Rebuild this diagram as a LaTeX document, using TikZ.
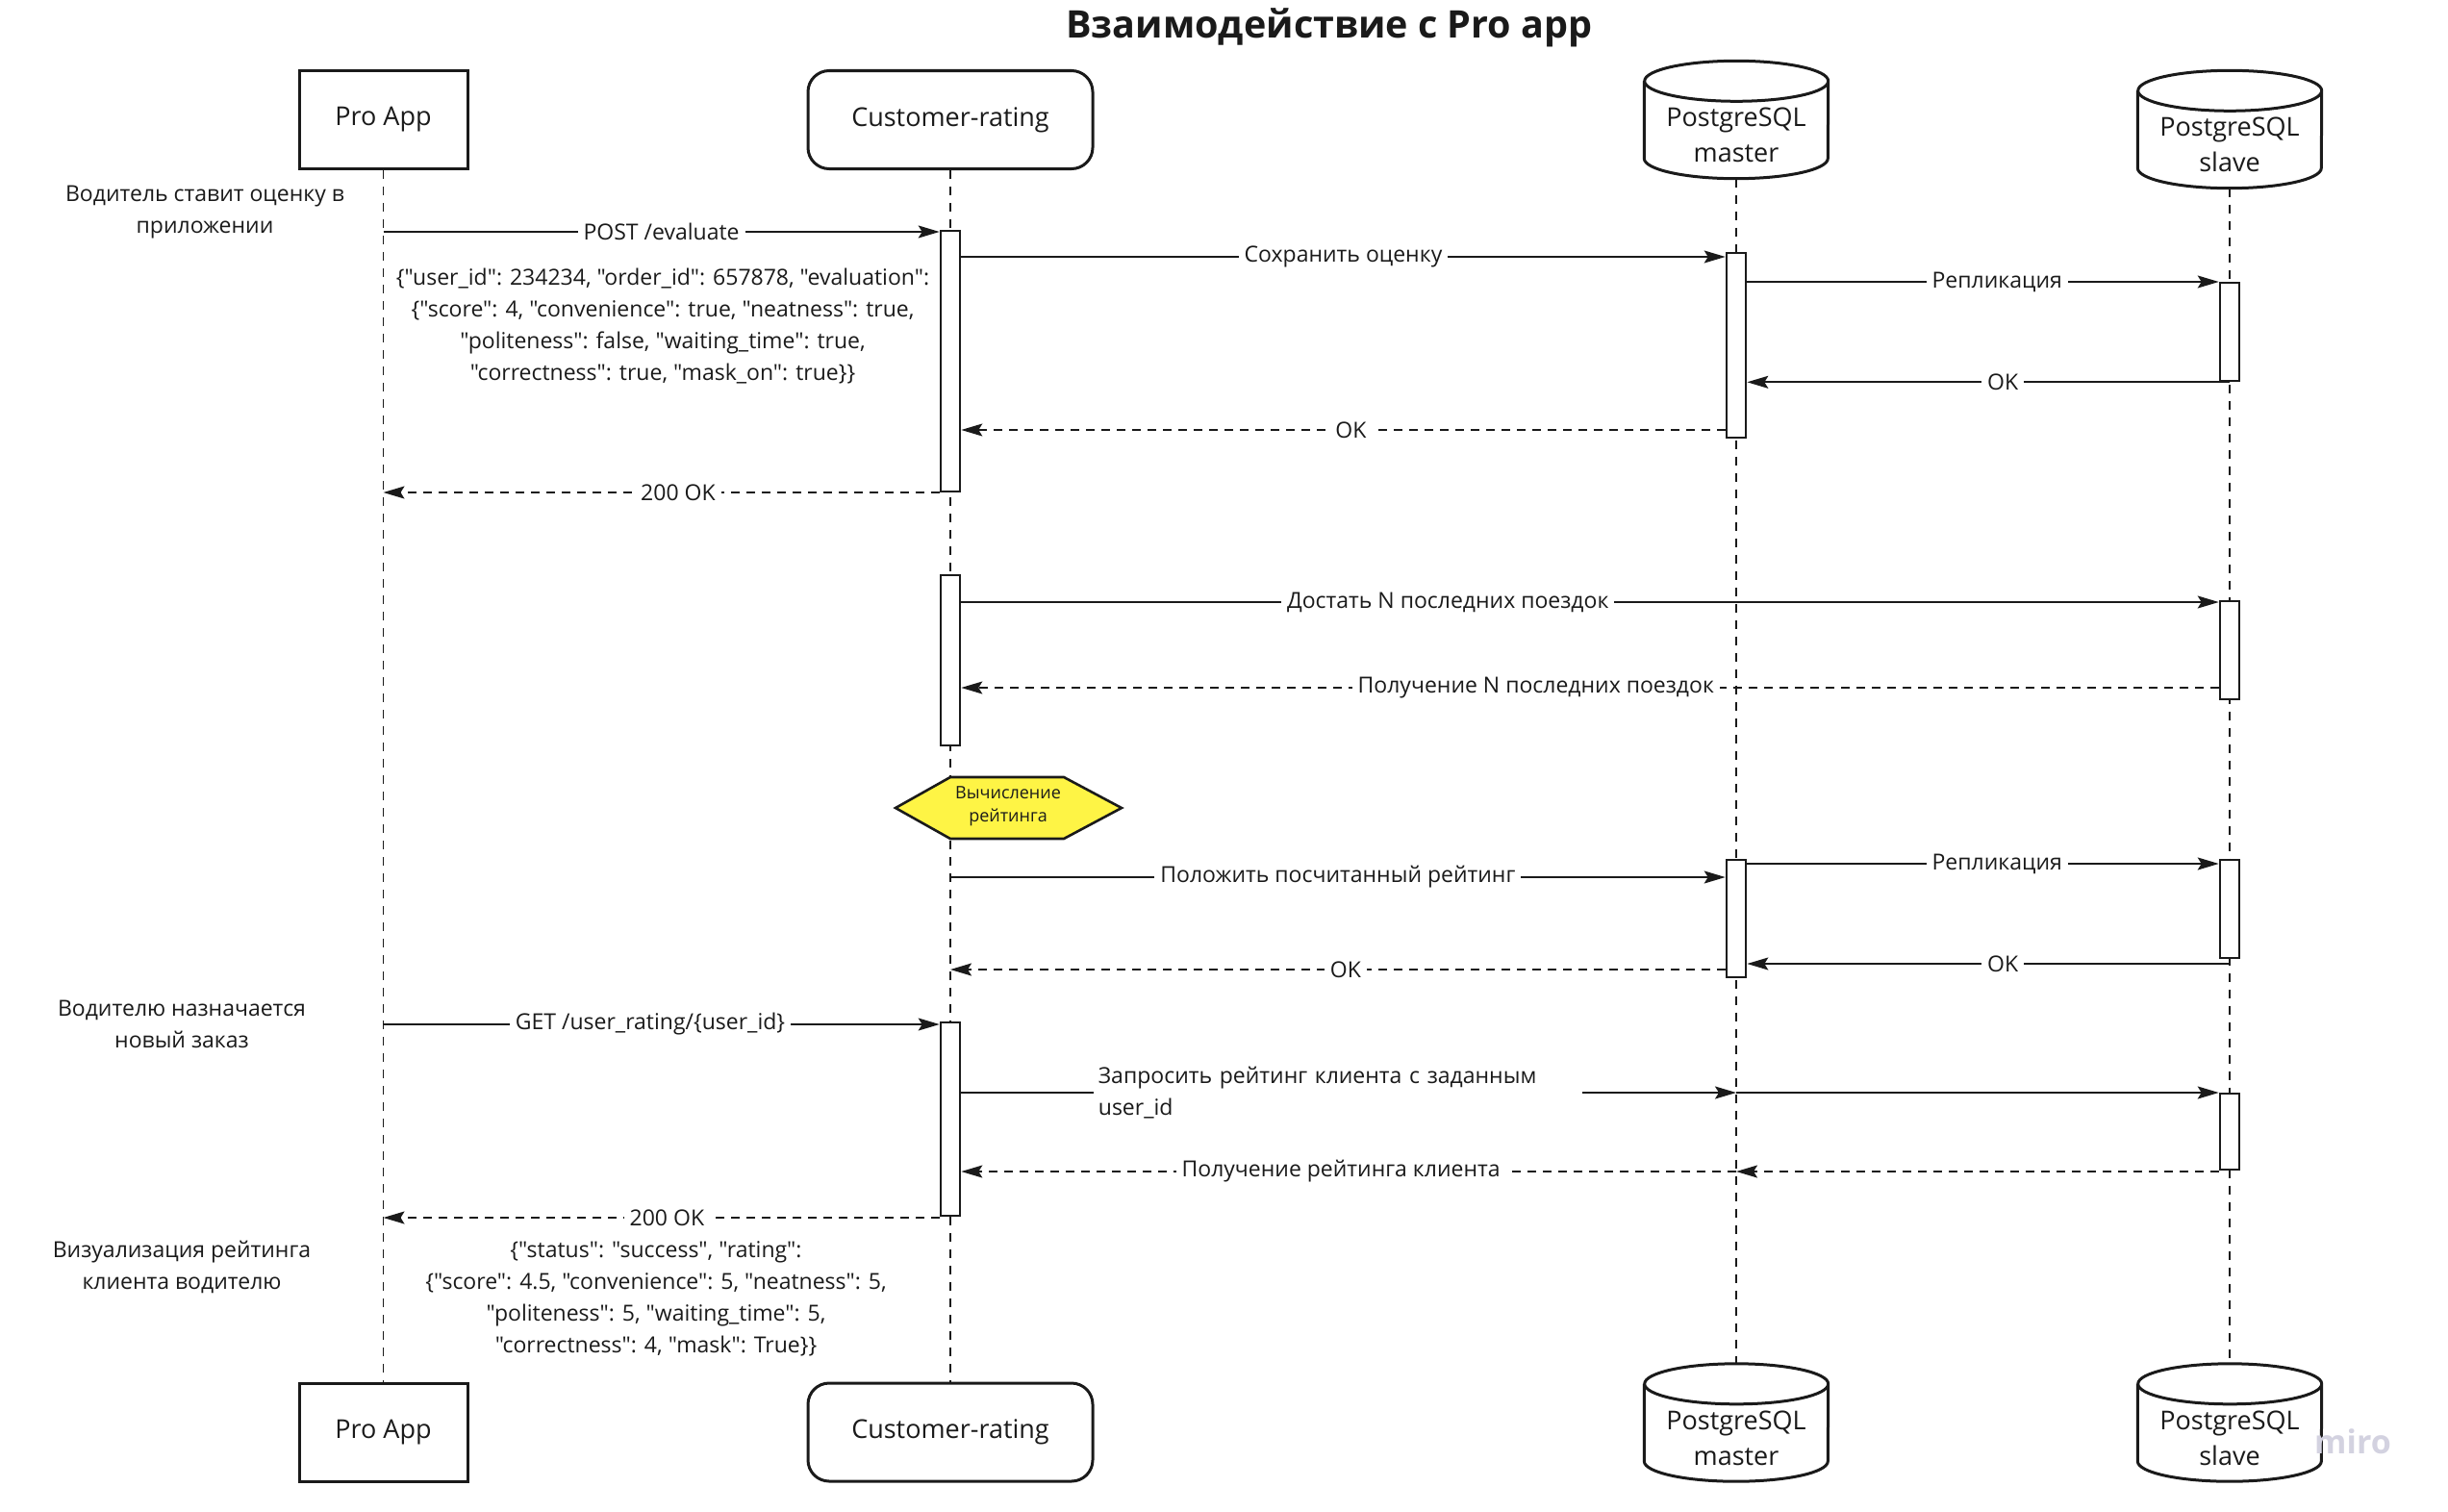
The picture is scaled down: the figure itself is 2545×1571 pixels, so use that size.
\documentclass[tikz,border=0pt]{standalone}
\usepackage{fontspec}
\setmainfont{Open Sans}
\newfontfamily\jsonf{Open Sans}
\usetikzlibrary{arrows.meta}
\definecolor{ink}{HTML}{1A1A1A}
\definecolor{hexfill}{HTML}{FEF445}
\definecolor{wmark}{HTML}{D3D2E0}
\newcommand\fmsgx{\fontsize{23pt}{33pt}\selectfont}
\newcommand\fhdrx{\fontsize{27pt}{37pt}\selectfont}
\newcommand\fhexx{\fontsize{18pt}{24pt}\selectfont}
\newcommand\ftitlex{\fontsize{39.5pt}{46pt}\selectfont\bfseries}
\begin{document}
\begin{tikzpicture}[x=1pt,y=-1pt,
  hdr/.style={draw=ink, line width=3pt, minimum width=175pt, minimum height=102pt, inner sep=0pt, font=\fhdrx, text=ink},
  crhdr/.style={hdr, rounded corners=22pt, minimum width=296pt},
  cylbody/.style={minimum width=191pt, minimum height=122pt, inner sep=0pt},
  cylline/.style={draw=ink, line width=3pt},
  cyltext/.style={align=center, font=\fhdrx, inner sep=0pt, text=ink},
  life/.style={draw=ink, line width=1.5pt, dash pattern=on 9pt off 8pt},
  act/.style={draw=ink, fill=white, line width=2.6pt, minimum width=20pt, inner sep=0pt},
  msg/.style={draw=ink, line width=1.8pt, -{Stealth[length=22pt,width=13pt,inset=4pt]}},
  ret/.style={msg, dash pattern=on 9pt off 7pt},
  lbl/.style={fill=white, font=\fmsgx, inner xsep=6pt, inner ysep=2pt, text=ink},
  note/.style={align=center, font=\fmsgx, inner sep=0pt, text=ink},
  json/.style={note, font=\jsonf\fmsgx},
  hexline/.style={draw=ink, line width=2.6pt, fill=hexfill},
]
\useasboundingbox (0,0) rectangle (2545,1571);

% title
\node[font=\ftitlex, text=ink] (title) at (1382,29) {Взаимодействие с Pro app};

% participants
\node[hdr] (proTop) at (398.5,124.5) {Pro App};
\node[crhdr] (crTop) at (988,124.5) {Customer-rating};
\node[cylbody] (mTop) at (1805,124.5) {};
\node[cylbody] (sTop) at (2318,134.5) {};
\node[hdr] (proBot) at (398.5,1489) {Pro App};
\node[crhdr] (crBot) at (988,1489) {Customer-rating};
\node[cylbody] (mBot) at (1805,1479) {};
\node[cylbody] (sBot) at (2318,1479) {};

\foreach \c in {mTop,sTop,mBot,sBot}{
  \draw[cylline] ([yshift=-21pt]\c.north west) -- ([yshift=21pt]\c.south west)
    arc[start angle=180,end angle=360,x radius=95.5pt,y radius=21pt]
    -- ([yshift=-21pt]\c.north east)
    arc[start angle=0,end angle=360,x radius=95.5pt,y radius=21pt];
}
\node[cyltext] (mTopT) at ([yshift=-16pt]mTop.center) {PostgreSQL\\master};
\node[cyltext] (sTopT) at ([yshift=-16pt]sTop.center) {PostgreSQL\\slave};
\node[cyltext] (mBotT) at ([yshift=-16pt]mBot.center) {PostgreSQL\\master};
\node[cyltext] (sBotT) at ([yshift=-16pt]sBot.center) {PostgreSQL\\slave};

% lifelines
\draw[life] (proTop.south) -- (proBot.north);
\draw[life] (crTop.south) -- (crBot.north);
\draw[life] (mTop.south) -- (mBot.north);
\draw[life] (sTop.south) -- (sBot.north);

% activation bars
\node[act, minimum height=271pt] (crA1) at (988,375.5) {};
\node[act, minimum height=192pt] (mA1) at (1805,359) {};
\node[act, minimum height=102pt] (sA1) at (2318,345) {};
\node[act, minimum height=177pt] (crA2) at (988,686.5) {};
\node[act, minimum height=102pt] (sA2) at (2318,676) {};
\node[act, minimum height=122pt] (mA2) at (1805,955) {};
\node[act, minimum height=102pt] (sA3) at (2318,945) {};
\node[act, minimum height=201pt] (crA3) at (988,1163.5) {};
\node[act, minimum height=79pt] (sA4) at (2318,1176.5) {};

% hexagon
\draw[hexline] (931,840) -- (988,808) -- (1106,808) -- (1166,840) -- (1106,872) -- (988,872) -- cycle;
\node[align=center, font=\fhexx, inner sep=0pt, text=ink] (calc) at (1048,838) {Вычисление\\рейтинга};

% notes
\node[note] (n1) at (213,221) {Водитель ставит оценку в\\приложении};
\node[note] (n2) at (189,1065) {Водителю назначается\\новый заказ};
\node[note] (n3) at (189,1317) {Визуализация рейтинга\\клиента водителю};
\node[json] (j1) at (689,339) {\{"user\_id": 234234, "order\_id": 657878, "evaluation":\\
\{"score": 4, "convenience": true, "neatness": true,\\
"politeness": false, "waiting\_time": true,\\
"correctness": true, "mask\_on": true\}\}};
\node[json] (j2) at (682,1350) {\{"status": "success", "rating":\\
\{"score": 4.5, "convenience": 5, "neatness": 5,\\
"politeness": 5, "waiting\_time": 5,\\
"correctness": 4, "mask": True\}\}};

% messages
\draw[msg] (proTop.south |- 0,241) -- node[lbl] {POST /evaluate} (crA1.west |- 0,241);
\draw[msg] (crA1.east |- 0,267) -- node[lbl] {Сохранить оценку} (mA1.west |- 0,267);
\draw[msg] (mA1.east |- 0,293) -- node[lbl, pos=0.53] {Репликация} (sA1.west |- 0,293);
\draw[msg] (sA1.south) -- node[lbl, pos=0.47] {OK} (mA1.east |- sA1.south);
\draw[ret] (mA1.west |- 0,447) -- node[lbl, pos=0.49] {OK} (crA1.east |- 0,447);
\draw[ret] (crA1.west |- 0,512) -- node[lbl, pos=0.47] {200 OK} (proTop.south |- 0,512);

\draw[msg] (crA2.east |- 0,626) -- node[lbl, pos=0.387] {Достать N последних поездок} (sA2.west |- 0,626);
\draw[ret] (sA2.west |- 0,715) -- node[lbl, pos=0.543] {Получение N последних поездок} (crA2.east |- 0,715);

\draw[msg] (crTop.south |- 0,912) -- node[lbl] {Положить посчитанный рейтинг} (mA2.west |- 0,912);
\draw[msg] (mA2.east |- 0,898) -- node[lbl, pos=0.53] {Репликация} (sA3.west |- 0,898);
\draw[msg] (sA3.south |- 0,1002) -- node[lbl, pos=0.47] {OK} (mA2.east |- 0,1002);
\draw[ret] (mA2.west |- 0,1008) -- node[lbl, pos=0.49] {OK} (crTop.south |- 0,1008);

\draw[msg] (proTop.south |- 0,1065) -- node[lbl, pos=0.48] {GET /user\_rating/\{user\_id\}} (crA3.west |- 0,1065);
\draw[msg] (crA3.east |- 0,1136) -- node[lbl, text width=498pt, align=left, inner xsep=5pt, pos=0.486] {Запросить рейтинг клиента с заданным\\user\_id} (mTop.south |- 0,1136);
\draw[msg] (mTop.south |- 0,1136) -- (sA4.west |- 0,1136);
\draw[ret] (sA4.west |- 0,1218) -- (mTop.south |- 0,1218);
\draw[ret] (mTop.south |- 0,1218) -- node[lbl, pos=0.51] {Получение рейтинга клиента} (crA3.east |- 0,1218);
\draw[ret] (crA3.west |- 0,1266) -- node[lbl, pos=0.49] {200 OK} (proTop.south |- 0,1266);

% watermark
\node[font=\fontsize{34pt}{40pt}\selectfont\bfseries, text=wmark] (wm) at (2446,1499) {miro};
\end{tikzpicture}
\end{document}
